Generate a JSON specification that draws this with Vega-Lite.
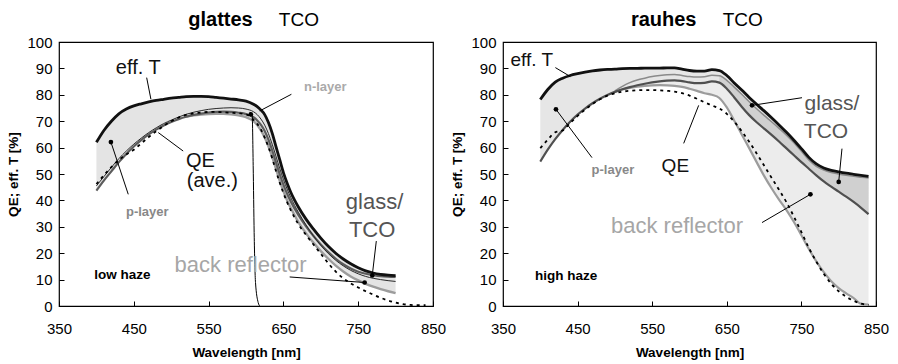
{
  "$schema": "https://vega.github.io/schema/vega-lite/v6.json",
  "padding": {"left": 6, "top": 9, "right": 5, "bottom": 0},
  "spacing": 3,
  "config": {
    "font": "Liberation Sans",
    "view": {"stroke": "black", "strokeWidth": 1.2},
    "axis": {"grid": false, "domain": false, "ticks": true, "tickSize": -5, "tickColor": "black", "tickWidth": 1, "labelFont": "Liberation Sans", "labelFontSize": 15, "labelColor": "black", "labelFlush": false, "labelOverlap": false, "titleFont": "Liberation Sans", "titleFontSize": 13.5, "titleFontWeight": "bold", "titleColor": "black"},
    "axisX": {"labelPadding": 20, "titlePadding": 9, "titleFontSize": 13.5, "labelOverlap": false},
    "axisY": {"labelPadding": 12, "titlePadding": 6, "titleFontSize": 13.5, "labelOverlap": false},
    "text": {"font": "Liberation Sans"}
  },
  "datasets": {
    "L": [
      {"wl": 400, "effT": 62, "thin": 45.5, "gd": 43.7, "gbr": null, "low": 43.7, "qe": 46.2},
      {"wl": 410, "effT": 66.5, "thin": 49, "gd": 47.5, "gbr": null, "low": 47.5, "qe": 49.5},
      {"wl": 420, "effT": 70, "thin": 52.5, "gd": 51, "gbr": null, "low": 51, "qe": 52.6},
      {"wl": 430, "effT": 72.8, "thin": 55.8, "gd": 54.5, "gbr": null, "low": 54.5, "qe": 55.3},
      {"wl": 440, "effT": 74.6, "thin": 58.7, "gd": 57.6, "gbr": null, "low": 57.6, "qe": 57.4},
      {"wl": 450, "effT": 75.8, "thin": 61.3, "gd": 60.4, "gbr": null, "low": 60.4, "qe": 59.2},
      {"wl": 460, "effT": 76.6, "thin": 63.6, "gd": 62.8, "gbr": null, "low": 62.8, "qe": 61.6},
      {"wl": 470, "effT": 77.3, "thin": 65.7, "gd": 65, "gbr": null, "low": 65, "qe": 64},
      {"wl": 480, "effT": 77.9, "thin": 67.5, "gd": 66.8, "gbr": null, "low": 66.8, "qe": 66.2},
      {"wl": 490, "effT": 78.3, "thin": 69.1, "gd": 68.4, "gbr": null, "low": 68.4, "qe": 68.2},
      {"wl": 500, "effT": 78.7, "thin": 70.4, "gd": 69.7, "gbr": null, "low": 69.7, "qe": 70},
      {"wl": 510, "effT": 79, "thin": 71.6, "gd": 70.8, "gbr": null, "low": 70.8, "qe": 71.4},
      {"wl": 520, "effT": 79.3, "thin": 72.6, "gd": 71.7, "gbr": 71.7, "low": 71.7, "qe": 72.4},
      {"wl": 530, "effT": 79.4, "thin": 73.4, "gd": 72.4, "gbr": 72.2, "low": 72.2, "qe": 73},
      {"wl": 540, "effT": 79.4, "thin": 74, "gd": 72.9, "gbr": 72.5, "low": 72.5, "qe": 73.3},
      {"wl": 550, "effT": 79.3, "thin": 74.5, "gd": 73.3, "gbr": 72.7, "low": 72.7, "qe": 73.5},
      {"wl": 560, "effT": 79, "thin": 74.8, "gd": 73.5, "gbr": 72.8, "low": 72.8, "qe": 73.5},
      {"wl": 570, "effT": 78.7, "thin": 75, "gd": 73.6, "gbr": 72.8, "low": 72.8, "qe": 73.4},
      {"wl": 580, "effT": 78.4, "thin": 75.1, "gd": 73.5, "gbr": 72.6, "low": 72.6, "qe": 73.2},
      {"wl": 590, "effT": 78.1, "thin": 75, "gd": 73.2, "gbr": 72.2, "low": 72.2, "qe": 73},
      {"wl": 600, "effT": 77.6, "thin": 74.6, "gd": 72.7, "gbr": 71.5, "low": 71.5, "qe": 72.6},
      {"wl": 610, "effT": 76.4, "thin": 73.6, "gd": 71.5, "gbr": 70, "low": 70, "qe": 70.5},
      {"wl": 615, "effT": 75.5, "thin": 72.5, "gd": 70.3, "gbr": 68.6, "low": 68.6, "qe": 69},
      {"wl": 620, "effT": 74.2, "thin": 70.8, "gd": 68.6, "gbr": 66.5, "low": 66.5, "qe": 66.8},
      {"wl": 625, "effT": 72.5, "thin": 68.5, "gd": 66.3, "gbr": 63.8, "low": 63.8, "qe": 63.8},
      {"wl": 630, "effT": 69.5, "thin": 65.3, "gd": 63, "gbr": 60.5, "low": 60.5, "qe": 60.2},
      {"wl": 635, "effT": 65.5, "thin": 61.3, "gd": 59, "gbr": 56.5, "low": 56.5, "qe": 56},
      {"wl": 640, "effT": 60.5, "thin": 56.8, "gd": 54.5, "gbr": 52, "low": 52, "qe": 51.2},
      {"wl": 645, "effT": 55.5, "thin": 52.2, "gd": 50, "gbr": 47.5, "low": 47.5, "qe": 46.8},
      {"wl": 650, "effT": 50.5, "thin": 48, "gd": 46, "gbr": 43.5, "low": 43.5, "qe": 42.8},
      {"wl": 655, "effT": 46.5, "thin": 44.3, "gd": 42.5, "gbr": 40, "low": 40, "qe": 39.3},
      {"wl": 660, "effT": 43, "thin": 41, "gd": 39.5, "gbr": 37, "low": 37, "qe": 36.2},
      {"wl": 670, "effT": 37.5, "thin": 35.5, "gd": 34.5, "gbr": 31.8, "low": 31.8, "qe": 31},
      {"wl": 680, "effT": 33, "thin": 30.8, "gd": 30.3, "gbr": 27.6, "low": 27.6, "qe": 27},
      {"wl": 690, "effT": 29.2, "thin": 26.6, "gd": 26.6, "gbr": 24, "low": 24, "qe": 23.4},
      {"wl": 700, "effT": 25.7, "thin": 23, "gd": 23.3, "gbr": 20.8, "low": 20.8, "qe": 19.8},
      {"wl": 710, "effT": 22.6, "thin": 19.9, "gd": 20.4, "gbr": 17.9, "low": 17.9, "qe": 16.2},
      {"wl": 720, "effT": 20, "thin": 17.3, "gd": 17.9, "gbr": 15.3, "low": 15.3, "qe": 13},
      {"wl": 730, "effT": 17.8, "thin": 15.2, "gd": 15.8, "gbr": 13.1, "low": 13.1, "qe": 10.5},
      {"wl": 740, "effT": 16, "thin": 13.5, "gd": 14.2, "gbr": 11.2, "low": 11.2, "qe": 8.6},
      {"wl": 750, "effT": 14.5, "thin": 12.2, "gd": 13, "gbr": 9.7, "low": 9.7, "qe": 7},
      {"wl": 760, "effT": 13.3, "thin": 11.2, "gd": 12.2, "gbr": 8.4, "low": 8.4, "qe": 5.6},
      {"wl": 770, "effT": 12.5, "thin": 10.5, "gd": 11.7, "gbr": 7.3, "low": 7.3, "qe": 4.3},
      {"wl": 780, "effT": 12, "thin": 10, "gd": 11.3, "gbr": 6.4, "low": 6.4, "qe": 3.1},
      {"wl": 790, "effT": 11.7, "thin": 9.6, "gd": 11.1, "gbr": 5.6, "low": 5.6, "qe": 2.1},
      {"wl": 800, "effT": 11.5, "thin": 9.3, "gd": 11, "gbr": 4.9, "low": 4.9, "qe": 1.3},
      {"wl": 810, "effT": null, "thin": null, "gd": null, "gbr": null, "low": null, "qe": 0.7},
      {"wl": 820, "effT": null, "thin": null, "gd": null, "gbr": null, "low": null, "qe": 0.4},
      {"wl": 830, "effT": null, "thin": null, "gd": null, "gbr": null, "low": null, "qe": 0.3},
      {"wl": 840, "effT": null, "thin": null, "gd": null, "gbr": null, "low": null, "qe": 0.3}
    ],
    "Lcut": [
      {"wl": 605.1, "v": 73.4}, {"wl": 608.2, "v": 72.8}, {"wl": 609.6, "v": 53.2}, {"wl": 610.9, "v": 27.8},
      {"wl": 612.7, "v": 8.9}, {"wl": 616.3, "v": 1.3}, {"wl": 618.5, "v": 0}
    ],
    "R": [
      {"wl": 400, "effT": 78.2, "n": null, "gt": 54.7, "br": null, "qe": 59.8},
      {"wl": 410, "effT": 82, "n": null, "gt": 59.2, "br": null, "qe": 63},
      {"wl": 420, "effT": 84.8, "n": null, "gt": 63.2, "br": null, "qe": 65.8},
      {"wl": 430, "effT": 86.3, "n": null, "gt": 66.7, "br": null, "qe": 66.5},
      {"wl": 440, "effT": 87.3, "n": null, "gt": 69.8, "br": null, "qe": 69.3},
      {"wl": 450, "effT": 88, "n": null, "gt": 72.5, "br": null, "qe": 72},
      {"wl": 460, "effT": 88.6, "n": null, "gt": 74.8, "br": null, "qe": 74.4},
      {"wl": 470, "effT": 89.1, "n": null, "gt": 76.8, "br": null, "qe": 76.5},
      {"wl": 480, "effT": 89.4, "n": null, "gt": 78.5, "br": null, "qe": 78.3},
      {"wl": 490, "effT": 89.6, "n": null, "gt": 79.9, "br": null, "qe": 79.7},
      {"wl": 500, "effT": 89.7, "n": 81.5, "gt": 81.1, "br": 81.1, "qe": 80.6},
      {"wl": 510, "effT": 89.9, "n": 83.2, "gt": 82.1, "br": 82, "qe": 81.2},
      {"wl": 520, "effT": 90, "n": 84.6, "gt": 82.9, "br": 82.6, "qe": 81.5},
      {"wl": 530, "effT": 90, "n": 85.6, "gt": 83.6, "br": 83.1, "qe": 81.7},
      {"wl": 540, "effT": 90.1, "n": 86.3, "gt": 84.2, "br": 83.4, "qe": 81.8},
      {"wl": 550, "effT": 90.1, "n": 86.9, "gt": 84.7, "br": 83.6, "qe": 81.8},
      {"wl": 560, "effT": 90.1, "n": 87.3, "gt": 85.1, "br": 83.7, "qe": 81.7},
      {"wl": 570, "effT": 90.2, "n": 87.6, "gt": 85.4, "br": 83.6, "qe": 81.5},
      {"wl": 580, "effT": 90.2, "n": 87.7, "gt": 85.5, "br": 83.4, "qe": 81.2},
      {"wl": 590, "effT": 89.7, "n": 87.3, "gt": 85.2, "br": 83, "qe": 80.6},
      {"wl": 600, "effT": 89.2, "n": 86.9, "gt": 84.7, "br": 82.3, "qe": 79.7},
      {"wl": 610, "effT": 89, "n": 86.7, "gt": 84.4, "br": 81.5, "qe": 78.5},
      {"wl": 620, "effT": 89, "n": 86.8, "gt": 84.5, "br": 80.6, "qe": 77.2},
      {"wl": 630, "effT": 89.5, "n": 87.4, "gt": 85.1, "br": 80, "qe": 76},
      {"wl": 640, "effT": 89.2, "n": 87.2, "gt": 84.6, "br": 78.8, "qe": 74.8},
      {"wl": 650, "effT": 87.3, "n": 85.5, "gt": 82.3, "br": 75.2, "qe": 72.8},
      {"wl": 660, "effT": 84.5, "n": 82.9, "gt": 79, "br": 70.2, "qe": 69.8},
      {"wl": 670, "effT": 81.8, "n": 80.2, "gt": 75.5, "br": 65, "qe": 66.2},
      {"wl": 680, "effT": 79, "n": 77.4, "gt": 72.3, "br": 59.8, "qe": 62.2},
      {"wl": 690, "effT": 76.4, "n": 74.7, "gt": 69.6, "br": 54.5, "qe": 57.8},
      {"wl": 700, "effT": 73.9, "n": 72.2, "gt": 67.2, "br": 49.3, "qe": 53.2},
      {"wl": 710, "effT": 71.3, "n": 69.8, "gt": 64.8, "br": 44.6, "qe": 48.6},
      {"wl": 720, "effT": 68.6, "n": 67.3, "gt": 62.3, "br": 40.3, "qe": 44},
      {"wl": 730, "effT": 65.8, "n": 64.7, "gt": 59.7, "br": 36.3, "qe": 39.3},
      {"wl": 740, "effT": 62.8, "n": 61.8, "gt": 57.1, "br": 31.8, "qe": 33.8},
      {"wl": 750, "effT": 59.6, "n": 58.6, "gt": 54.5, "br": 26.8, "qe": 28},
      {"wl": 760, "effT": 56.3, "n": 55.3, "gt": 52, "br": 21.6, "qe": 22},
      {"wl": 770, "effT": 53.8, "n": 52.9, "gt": 49.5, "br": 16.9, "qe": 16.8},
      {"wl": 780, "effT": 52.3, "n": 51.5, "gt": 47.2, "br": 12.8, "qe": 12.2},
      {"wl": 790, "effT": 51.4, "n": 50.6, "gt": 45.2, "br": 9.4, "qe": 8.4},
      {"wl": 800, "effT": 50.8, "n": 50, "gt": 43.3, "br": 6.8, "qe": 5.6},
      {"wl": 810, "effT": 50.3, "n": 49.5, "gt": 41.4, "br": 4.8, "qe": 3.5},
      {"wl": 820, "effT": 49.9, "n": 49.1, "gt": 39.4, "br": 3, "qe": 2},
      {"wl": 830, "effT": 49.5, "n": 48.8, "gt": 37.2, "br": 0.8, "qe": 0.9},
      {"wl": 840, "effT": 49.1, "n": 48.5, "gt": 34.8, "br": 0.5, "qe": 0.4}
    ],
    "Lptr": [
      {"x": 467.2, "y": 86.5, "x2": 472.9, "y2": 78.3},
      {"x": 660.7, "y": 80.2, "x2": 618.4, "y2": 73.9},
      {"x": 516, "y": 58.7, "x2": 482.7, "y2": 65.7},
      {"x": 419.4, "y": 62.1, "x2": 442.6, "y2": 42.3},
      {"x": 774.2, "y": 24.6, "x2": 768.8, "y2": 11.6},
      {"x": 658.4, "y": 11, "x2": 758.6, "y2": 8.9}
    ],
    "Ldot": [
      {"x": 419.4, "y": 62.1}, {"x": 606.4, "y": 72.6}, {"x": 768.8, "y": 11.6}, {"x": 758.6, "y": 8.9}
    ],
    "Rptr": [
      {"x": 420.2, "y": 90.3, "x2": 440.3, "y2": 86.9},
      {"x": 421, "y": 74.5, "x2": 469.3, "y2": 56.2},
      {"x": 592.2, "y": 61.6, "x2": 612.3, "y2": 76},
      {"x": 750.8, "y": 78.9, "x2": 683.8, "y2": 76},
      {"x": 804.4, "y": 59.6, "x2": 800, "y2": 47},
      {"x": 697.2, "y": 31.6, "x2": 762.1, "y2": 42.3}
    ],
    "Rdot": [
      {"x": 421, "y": 74.5}, {"x": 683.8, "y": 76}, {"x": 800, "y": 47}, {"x": 762.1, "y": 42.3}
    ],
    "Lbig": [
      {"x": 456, "y": 87.8, "text": "eff. T"},
      {"x": 539, "y": 52.5, "text": "QE"},
      {"x": 555, "y": 45, "text": "(ave.)"}
    ],
    "Rbig": [
      {"x": 388.5, "y": 90.9, "text": "eff. T"},
      {"x": 581, "y": 50.8, "text": "QE"}
    ],
    "Lglass": [
      {"x": 771.9, "y": 36.9, "text": "glass/"},
      {"x": 768.6, "y": 26.3, "text": "TCO"}
    ],
    "Rglass": [
      {"x": 791, "y": 74.2, "text": "glass/"},
      {"x": 783, "y": 63.8, "text": "TCO"}
    ],
    "Lback": [{"x": 592.8, "y": 12.9, "text": "back reflector"}],
    "Rback": [{"x": 583.3, "y": 27.5, "text": "back reflector"}],
    "Lnl": [{"x": 706, "y": 81.3, "text": "n-layer"}],
    "Lpl": [{"x": 468, "y": 34, "text": "p-layer"}],
    "Rpl": [{"x": 497.3, "y": 49.9, "text": "p-layer"}],
    "Lhaze": [{"x": 434.8, "y": 10.4, "text": "low haze"}],
    "Rhaze": [{"x": 434.5, "y": 9.8, "text": "high haze"}],
    "Lhead": [{"x": 565.9, "y": 105.9, "text": "glattes"}],
    "Rhead": [{"x": 565.4, "y": 105.9, "text": "rauhes"}],
    "Ltco": [{"x": 670.7, "y": 105.9, "text": "TCO"}],
    "Rtco": [{"x": 671.3, "y": 105.9, "text": "TCO"}]
  },
  "hconcat": [
    {
      "width": 374,
      "height": 264,
      "layer": [
        {"data": {"name": "L"}, "mark": {"type": "area", "color": "#e4e4e4", "interpolate": "monotone"},
         "encoding": {"x": {"field": "wl", "type": "quantitative", "scale": {"domain": [350, 850], "nice": false}, "axis": {"values": [350, 450, 550, 650, 750, 850], "labelOverlap": false}, "title": "Wavelength  [nm]"},
                      "y": {"field": "effT", "type": "quantitative", "scale": {"domain": [0, 100], "nice": false}, "axis": {"values": [0, 10, 20, 30, 40, 50, 60, 70, 80, 90, 100], "labelOverlap": false}, "title": "QE;  eff. T [%]"},
                      "y2": {"field": "low"}}},
        {"data": {"name": "L"}, "mark": {"type": "line", "color": "#9c9c9c", "strokeWidth": 2.4, "interpolate": "monotone"},
         "encoding": {"x": {"field": "wl", "type": "quantitative", "axis": {"values": [350, 450, 550, 650, 750, 850], "labelOverlap": false}, "title": "Wavelength  [nm]"}, "y": {"field": "gbr", "type": "quantitative", "axis": {"values": [0, 10, 20, 30, 40, 50, 60, 70, 80, 90, 100], "labelOverlap": false}, "title": "QE;  eff. T [%]"}}},
        {"data": {"name": "L"}, "mark": {"type": "line", "color": "#5c5c5c", "strokeWidth": 2.2, "interpolate": "monotone"},
         "encoding": {"x": {"field": "wl", "type": "quantitative", "axis": {"values": [350, 450, 550, 650, 750, 850], "labelOverlap": false}, "title": "Wavelength  [nm]"}, "y": {"field": "gd", "type": "quantitative", "axis": {"values": [0, 10, 20, 30, 40, 50, 60, 70, 80, 90, 100], "labelOverlap": false}, "title": "QE;  eff. T [%]"}}},
        {"data": {"name": "L"}, "mark": {"type": "line", "color": "#2a2a2a", "strokeWidth": 1, "interpolate": "monotone"},
         "encoding": {"x": {"field": "wl", "type": "quantitative", "axis": {"values": [350, 450, 550, 650, 750, 850], "labelOverlap": false}, "title": "Wavelength  [nm]"}, "y": {"field": "thin", "type": "quantitative", "axis": {"values": [0, 10, 20, 30, 40, 50, 60, 70, 80, 90, 100], "labelOverlap": false}, "title": "QE;  eff. T [%]"}}},
        {"data": {"name": "L"}, "mark": {"type": "line", "color": "#111111", "strokeWidth": 2.8, "interpolate": "monotone"},
         "encoding": {"x": {"field": "wl", "type": "quantitative", "axis": {"values": [350, 450, 550, 650, 750, 850], "labelOverlap": false}, "title": "Wavelength  [nm]"}, "y": {"field": "effT", "type": "quantitative", "axis": {"values": [0, 10, 20, 30, 40, 50, 60, 70, 80, 90, 100], "labelOverlap": false}, "title": "QE;  eff. T [%]"}}},
        {"data": {"name": "L"}, "mark": {"type": "line", "color": "#000000", "strokeWidth": 1.8, "strokeDash": [3, 4], "interpolate": "monotone"},
         "encoding": {"x": {"field": "wl", "type": "quantitative", "axis": {"values": [350, 450, 550, 650, 750, 850], "labelOverlap": false}, "title": "Wavelength  [nm]"}, "y": {"field": "qe", "type": "quantitative", "axis": {"values": [0, 10, 20, 30, 40, 50, 60, 70, 80, 90, 100], "labelOverlap": false}, "title": "QE;  eff. T [%]"}}},
        {"data": {"name": "Lcut"}, "mark": {"type": "line", "color": "#000000", "strokeWidth": 1, "interpolate": "monotone"},
         "encoding": {"x": {"field": "wl", "type": "quantitative", "axis": {"values": [350, 450, 550, 650, 750, 850], "labelOverlap": false}, "title": "Wavelength  [nm]"}, "y": {"field": "v", "type": "quantitative", "axis": {"values": [0, 10, 20, 30, 40, 50, 60, 70, 80, 90, 100], "labelOverlap": false}, "title": "QE;  eff. T [%]"}}},
        {"data": {"name": "Lptr"}, "mark": {"type": "rule", "color": "#000000", "strokeWidth": 1},
         "encoding": {"x": {"field": "x", "type": "quantitative", "axis": {"values": [350, 450, 550, 650, 750, 850], "labelOverlap": false}, "title": "Wavelength  [nm]"}, "x2": {"field": "x2"}, "y": {"field": "y", "type": "quantitative", "axis": {"values": [0, 10, 20, 30, 40, 50, 60, 70, 80, 90, 100], "labelOverlap": false}, "title": "QE;  eff. T [%]"}, "y2": {"field": "y2"}}},
        {"data": {"name": "Ldot"}, "mark": {"type": "point", "filled": true, "color": "#000000", "size": 22, "opacity": 1},
         "encoding": {"x": {"field": "x", "type": "quantitative", "axis": {"values": [350, 450, 550, 650, 750, 850], "labelOverlap": false}, "title": "Wavelength  [nm]"}, "y": {"field": "y", "type": "quantitative", "axis": {"values": [0, 10, 20, 30, 40, 50, 60, 70, 80, 90, 100], "labelOverlap": false}, "title": "QE;  eff. T [%]"}}},
        {"data": {"name": "Lbig"}, "mark": {"type": "text", "fontSize": 20, "color": "#111111", "align": "center", "baseline": "alphabetic"},
         "encoding": {"x": {"field": "x", "type": "quantitative", "axis": {"values": [350, 450, 550, 650, 750, 850], "labelOverlap": false}, "title": "Wavelength  [nm]"}, "y": {"field": "y", "type": "quantitative", "axis": {"values": [0, 10, 20, 30, 40, 50, 60, 70, 80, 90, 100], "labelOverlap": false}, "title": "QE;  eff. T [%]"}, "text": {"field": "text"}}},
        {"data": {"name": "Lglass"}, "mark": {"type": "text", "fontSize": 22, "color": "#555555", "align": "center", "baseline": "alphabetic"},
         "encoding": {"x": {"field": "x", "type": "quantitative", "axis": {"values": [350, 450, 550, 650, 750, 850], "labelOverlap": false}, "title": "Wavelength  [nm]"}, "y": {"field": "y", "type": "quantitative", "axis": {"values": [0, 10, 20, 30, 40, 50, 60, 70, 80, 90, 100], "labelOverlap": false}, "title": "QE;  eff. T [%]"}, "text": {"field": "text"}}},
        {"data": {"name": "Lback"}, "mark": {"type": "text", "fontSize": 22, "color": "#a6a6a6", "align": "center", "baseline": "alphabetic"},
         "encoding": {"x": {"field": "x", "type": "quantitative", "axis": {"values": [350, 450, 550, 650, 750, 850], "labelOverlap": false}, "title": "Wavelength  [nm]"}, "y": {"field": "y", "type": "quantitative", "axis": {"values": [0, 10, 20, 30, 40, 50, 60, 70, 80, 90, 100], "labelOverlap": false}, "title": "QE;  eff. T [%]"}, "text": {"field": "text"}}},
        {"data": {"name": "Lnl"}, "mark": {"type": "text", "fontSize": 13, "fontWeight": "bold", "color": "#aaaaaa", "align": "center", "baseline": "alphabetic"},
         "encoding": {"x": {"field": "x", "type": "quantitative", "axis": {"values": [350, 450, 550, 650, 750, 850], "labelOverlap": false}, "title": "Wavelength  [nm]"}, "y": {"field": "y", "type": "quantitative", "axis": {"values": [0, 10, 20, 30, 40, 50, 60, 70, 80, 90, 100], "labelOverlap": false}, "title": "QE;  eff. T [%]"}, "text": {"field": "text"}}},
        {"data": {"name": "Lpl"}, "mark": {"type": "text", "fontSize": 13, "fontWeight": "bold", "color": "#888888", "align": "center", "baseline": "alphabetic"},
         "encoding": {"x": {"field": "x", "type": "quantitative", "axis": {"values": [350, 450, 550, 650, 750, 850], "labelOverlap": false}, "title": "Wavelength  [nm]"}, "y": {"field": "y", "type": "quantitative", "axis": {"values": [0, 10, 20, 30, 40, 50, 60, 70, 80, 90, 100], "labelOverlap": false}, "title": "QE;  eff. T [%]"}, "text": {"field": "text"}}},
        {"data": {"name": "Lhaze"}, "mark": {"type": "text", "fontSize": 13.5, "fontWeight": "bold", "color": "#000000", "align": "center", "baseline": "alphabetic"},
         "encoding": {"x": {"field": "x", "type": "quantitative", "axis": {"values": [350, 450, 550, 650, 750, 850], "labelOverlap": false}, "title": "Wavelength  [nm]"}, "y": {"field": "y", "type": "quantitative", "axis": {"values": [0, 10, 20, 30, 40, 50, 60, 70, 80, 90, 100], "labelOverlap": false}, "title": "QE;  eff. T [%]"}, "text": {"field": "text"}}},
        {"data": {"name": "Lhead"}, "mark": {"type": "text", "fontSize": 20, "fontWeight": "bold", "color": "#000000", "align": "center", "baseline": "alphabetic"},
         "encoding": {"x": {"field": "x", "type": "quantitative", "axis": {"values": [350, 450, 550, 650, 750, 850], "labelOverlap": false}, "title": "Wavelength  [nm]"}, "y": {"field": "y", "type": "quantitative", "axis": {"values": [0, 10, 20, 30, 40, 50, 60, 70, 80, 90, 100], "labelOverlap": false}, "title": "QE;  eff. T [%]"}, "text": {"field": "text"}}},
        {"data": {"name": "Ltco"}, "mark": {"type": "text", "fontSize": 19, "color": "#000000", "align": "center", "baseline": "alphabetic"},
         "encoding": {"x": {"field": "x", "type": "quantitative", "axis": {"values": [350, 450, 550, 650, 750, 850], "labelOverlap": false}, "title": "Wavelength  [nm]"}, "y": {"field": "y", "type": "quantitative", "axis": {"values": [0, 10, 20, 30, 40, 50, 60, 70, 80, 90, 100], "labelOverlap": false}, "title": "QE;  eff. T [%]"}, "text": {"field": "text"}}}
      ]
    },
    {
      "width": 373,
      "height": 264,
      "layer": [
        {"data": {"name": "R"}, "mark": {"type": "area", "color": "#e6e6e6", "interpolate": "monotone"},
         "encoding": {"x": {"field": "wl", "type": "quantitative", "scale": {"domain": [350, 850], "nice": false}, "axis": {"values": [350, 450, 550, 650, 750, 850], "labelOverlap": false}, "title": "Wavelength  [nm]"},
                      "y": {"field": "effT", "type": "quantitative", "scale": {"domain": [0, 100], "nice": false}, "axis": {"values": [0, 10, 20, 30, 40, 50, 60, 70, 80, 90, 100], "labelOverlap": false}, "title": "QE;  eff. T [%]"},
                      "y2": {"field": "gt"}}},
        {"data": {"name": "R"}, "transform": [{"filter": "datum.wl >= 640"}], "mark": {"type": "area", "color": "#d0d0d0", "interpolate": "monotone"},
         "encoding": {"x": {"field": "wl", "type": "quantitative", "axis": {"values": [350, 450, 550, 650, 750, 850], "labelOverlap": false}, "title": "Wavelength  [nm]"}, "y": {"field": "n", "type": "quantitative", "axis": {"values": [0, 10, 20, 30, 40, 50, 60, 70, 80, 90, 100], "labelOverlap": false}, "title": "QE;  eff. T [%]"}, "y2": {"field": "gt"}}},
        {"data": {"name": "R"}, "transform": [{"filter": "datum.wl >= 500"}], "mark": {"type": "area", "color": "#ececec", "interpolate": "monotone"},
         "encoding": {"x": {"field": "wl", "type": "quantitative", "axis": {"values": [350, 450, 550, 650, 750, 850], "labelOverlap": false}, "title": "Wavelength  [nm]"}, "y": {"field": "gt", "type": "quantitative", "axis": {"values": [0, 10, 20, 30, 40, 50, 60, 70, 80, 90, 100], "labelOverlap": false}, "title": "QE;  eff. T [%]"}, "y2": {"field": "br"}}},
        {"data": {"name": "R"}, "mark": {"type": "line", "color": "#9c9c9c", "strokeWidth": 2.2, "interpolate": "monotone"},
         "encoding": {"x": {"field": "wl", "type": "quantitative", "axis": {"values": [350, 450, 550, 650, 750, 850], "labelOverlap": false}, "title": "Wavelength  [nm]"}, "y": {"field": "br", "type": "quantitative", "axis": {"values": [0, 10, 20, 30, 40, 50, 60, 70, 80, 90, 100], "labelOverlap": false}, "title": "QE;  eff. T [%]"}}},
        {"data": {"name": "R"}, "mark": {"type": "line", "color": "#8a8a8a", "strokeWidth": 1.5, "interpolate": "monotone"},
         "encoding": {"x": {"field": "wl", "type": "quantitative", "axis": {"values": [350, 450, 550, 650, 750, 850], "labelOverlap": false}, "title": "Wavelength  [nm]"}, "y": {"field": "n", "type": "quantitative", "axis": {"values": [0, 10, 20, 30, 40, 50, 60, 70, 80, 90, 100], "labelOverlap": false}, "title": "QE;  eff. T [%]"}}},
        {"data": {"name": "R"}, "mark": {"type": "line", "color": "#4f4f4f", "strokeWidth": 2.2, "interpolate": "monotone"},
         "encoding": {"x": {"field": "wl", "type": "quantitative", "axis": {"values": [350, 450, 550, 650, 750, 850], "labelOverlap": false}, "title": "Wavelength  [nm]"}, "y": {"field": "gt", "type": "quantitative", "axis": {"values": [0, 10, 20, 30, 40, 50, 60, 70, 80, 90, 100], "labelOverlap": false}, "title": "QE;  eff. T [%]"}}},
        {"data": {"name": "R"}, "mark": {"type": "line", "color": "#111111", "strokeWidth": 2.8, "interpolate": "monotone"},
         "encoding": {"x": {"field": "wl", "type": "quantitative", "axis": {"values": [350, 450, 550, 650, 750, 850], "labelOverlap": false}, "title": "Wavelength  [nm]"}, "y": {"field": "effT", "type": "quantitative", "axis": {"values": [0, 10, 20, 30, 40, 50, 60, 70, 80, 90, 100], "labelOverlap": false}, "title": "QE;  eff. T [%]"}}},
        {"data": {"name": "R"}, "mark": {"type": "line", "color": "#000000", "strokeWidth": 1.8, "strokeDash": [3, 4], "interpolate": "monotone"},
         "encoding": {"x": {"field": "wl", "type": "quantitative", "axis": {"values": [350, 450, 550, 650, 750, 850], "labelOverlap": false}, "title": "Wavelength  [nm]"}, "y": {"field": "qe", "type": "quantitative", "axis": {"values": [0, 10, 20, 30, 40, 50, 60, 70, 80, 90, 100], "labelOverlap": false}, "title": "QE;  eff. T [%]"}}},
        {"data": {"name": "Rptr"}, "mark": {"type": "rule", "color": "#000000", "strokeWidth": 1},
         "encoding": {"x": {"field": "x", "type": "quantitative", "axis": {"values": [350, 450, 550, 650, 750, 850], "labelOverlap": false}, "title": "Wavelength  [nm]"}, "x2": {"field": "x2"}, "y": {"field": "y", "type": "quantitative", "axis": {"values": [0, 10, 20, 30, 40, 50, 60, 70, 80, 90, 100], "labelOverlap": false}, "title": "QE;  eff. T [%]"}, "y2": {"field": "y2"}}},
        {"data": {"name": "Rdot"}, "mark": {"type": "point", "filled": true, "color": "#000000", "size": 22, "opacity": 1},
         "encoding": {"x": {"field": "x", "type": "quantitative", "axis": {"values": [350, 450, 550, 650, 750, 850], "labelOverlap": false}, "title": "Wavelength  [nm]"}, "y": {"field": "y", "type": "quantitative", "axis": {"values": [0, 10, 20, 30, 40, 50, 60, 70, 80, 90, 100], "labelOverlap": false}, "title": "QE;  eff. T [%]"}}},
        {"data": {"name": "Rbig"}, "mark": {"type": "text", "fontSize": 19, "color": "#111111", "align": "center", "baseline": "alphabetic"},
         "encoding": {"x": {"field": "x", "type": "quantitative", "axis": {"values": [350, 450, 550, 650, 750, 850], "labelOverlap": false}, "title": "Wavelength  [nm]"}, "y": {"field": "y", "type": "quantitative", "axis": {"values": [0, 10, 20, 30, 40, 50, 60, 70, 80, 90, 100], "labelOverlap": false}, "title": "QE;  eff. T [%]"}, "text": {"field": "text"}}},
        {"data": {"name": "Rglass"}, "mark": {"type": "text", "fontSize": 21, "color": "#555555", "align": "center", "baseline": "alphabetic"},
         "encoding": {"x": {"field": "x", "type": "quantitative", "axis": {"values": [350, 450, 550, 650, 750, 850], "labelOverlap": false}, "title": "Wavelength  [nm]"}, "y": {"field": "y", "type": "quantitative", "axis": {"values": [0, 10, 20, 30, 40, 50, 60, 70, 80, 90, 100], "labelOverlap": false}, "title": "QE;  eff. T [%]"}, "text": {"field": "text"}}},
        {"data": {"name": "Rback"}, "mark": {"type": "text", "fontSize": 22, "color": "#a6a6a6", "align": "center", "baseline": "alphabetic"},
         "encoding": {"x": {"field": "x", "type": "quantitative", "axis": {"values": [350, 450, 550, 650, 750, 850], "labelOverlap": false}, "title": "Wavelength  [nm]"}, "y": {"field": "y", "type": "quantitative", "axis": {"values": [0, 10, 20, 30, 40, 50, 60, 70, 80, 90, 100], "labelOverlap": false}, "title": "QE;  eff. T [%]"}, "text": {"field": "text"}}},
        {"data": {"name": "Rpl"}, "mark": {"type": "text", "fontSize": 13, "fontWeight": "bold", "color": "#888888", "align": "center", "baseline": "alphabetic"},
         "encoding": {"x": {"field": "x", "type": "quantitative", "axis": {"values": [350, 450, 550, 650, 750, 850], "labelOverlap": false}, "title": "Wavelength  [nm]"}, "y": {"field": "y", "type": "quantitative", "axis": {"values": [0, 10, 20, 30, 40, 50, 60, 70, 80, 90, 100], "labelOverlap": false}, "title": "QE;  eff. T [%]"}, "text": {"field": "text"}}},
        {"data": {"name": "Rhaze"}, "mark": {"type": "text", "fontSize": 13.5, "fontWeight": "bold", "color": "#000000", "align": "center", "baseline": "alphabetic"},
         "encoding": {"x": {"field": "x", "type": "quantitative", "axis": {"values": [350, 450, 550, 650, 750, 850], "labelOverlap": false}, "title": "Wavelength  [nm]"}, "y": {"field": "y", "type": "quantitative", "axis": {"values": [0, 10, 20, 30, 40, 50, 60, 70, 80, 90, 100], "labelOverlap": false}, "title": "QE;  eff. T [%]"}, "text": {"field": "text"}}},
        {"data": {"name": "Rhead"}, "mark": {"type": "text", "fontSize": 20, "fontWeight": "bold", "color": "#000000", "align": "center", "baseline": "alphabetic"},
         "encoding": {"x": {"field": "x", "type": "quantitative", "axis": {"values": [350, 450, 550, 650, 750, 850], "labelOverlap": false}, "title": "Wavelength  [nm]"}, "y": {"field": "y", "type": "quantitative", "axis": {"values": [0, 10, 20, 30, 40, 50, 60, 70, 80, 90, 100], "labelOverlap": false}, "title": "QE;  eff. T [%]"}, "text": {"field": "text"}}},
        {"data": {"name": "Rtco"}, "mark": {"type": "text", "fontSize": 19, "color": "#000000", "align": "center", "baseline": "alphabetic"},
         "encoding": {"x": {"field": "x", "type": "quantitative", "axis": {"values": [350, 450, 550, 650, 750, 850], "labelOverlap": false}, "title": "Wavelength  [nm]"}, "y": {"field": "y", "type": "quantitative", "axis": {"values": [0, 10, 20, 30, 40, 50, 60, 70, 80, 90, 100], "labelOverlap": false}, "title": "QE;  eff. T [%]"}, "text": {"field": "text"}}}
      ]
    }
  ]
}
